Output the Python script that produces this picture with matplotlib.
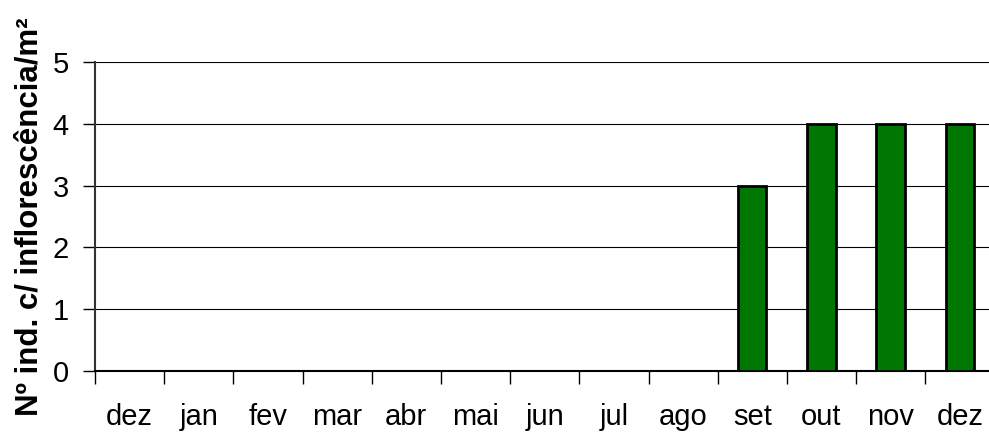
import matplotlib
matplotlib.use("Agg")
import matplotlib.pyplot as plt
import numpy as np

meses = ["dez", "jan", "fev", "mar", "abr", "mai", "jun", "jul", "ago", "set", "out", "nov", "dez"]
valores = [0, 0, 0, 0, 0, 0, 0, 0, 0, 3, 4, 4, 4]
y_ticks = [0, 1, 2, 3, 4, 5]

plt.rcParams['font.family'] = ['Liberation Sans', 'DejaVu Sans']

fig = plt.figure(figsize=(9.89, 4.33), dpi=100)
# plot area runs a bit past the right edge, like the original
ax = fig.add_axes([0.0961, 0.1432, 1.0055 - 0.0961, 0.8568 - 0.1432])

x = np.arange(len(meses))
ax.bar(x, valores, width=0.41, color='#007700', edgecolor='black', linewidth=2, zorder=3)

ax.set_xlim(-0.5, len(meses) - 0.5)
ax.set_ylim(0, 5)

# gridlines
for v in y_ticks[1:]:
    ax.axhline(v, color='black', linewidth=0.8, zorder=1)

ax.set_yticks(y_ticks)
ax.set_yticklabels([str(v) for v in y_ticks])
ax.tick_params(axis='y', length=9, width=1, direction='out', labelsize=21, pad=10)

ax.set_xticks(x)
ax.set_xticklabels(meses)
ax.set_xticks(np.arange(len(meses) + 1) - 0.5, minor=True)
ax.tick_params(axis='x', which='major', length=0, labelsize=21, pad=23)
ax.tick_params(axis='x', which='minor', length=9, width=1, direction='out')

for s in ['top', 'right']:
    ax.spines[s].set_visible(False)
ax.spines['left'].set_linewidth(1.5)
ax.spines['left'].set_color('#333333')
ax.spines['bottom'].set_linewidth(1.5)
ax.spines['bottom'].set_color('black')

ax.set_ylabel("Nº ind. c/ inflorescência/m²", fontsize=22.5, fontweight='bold', labelpad=6)

plt.savefig("out.png", dpi=100)
